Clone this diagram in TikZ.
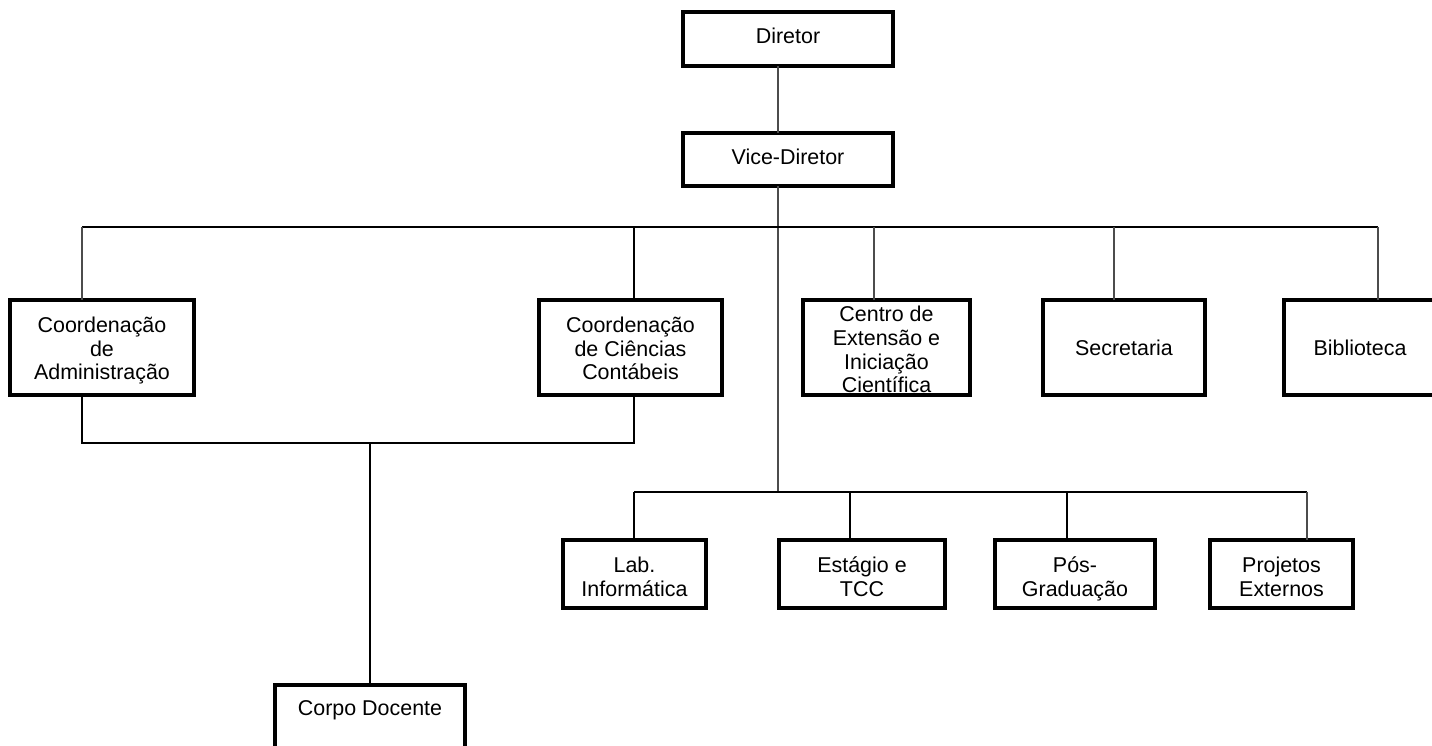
\documentclass[tikz,border=0pt]{standalone}
\usepackage{fontspec}
\setmainfont{Liberation Sans}
\begin{document}
\begin{tikzpicture}[x=0.02cm,y=-0.02cm,
	unit/.style={draw,line width=2.2pt,inner sep=0pt,outer sep=0pt,align=center,
		minimum height=0pt,font=\fontsize{12.2}{13.6}\selectfont,text height=0.64cm},
	link/.style={line width=1.1pt},
	thinlink/.style={line width=0.6pt,black!70}]
	\useasboundingbox (0,0) rectangle (1432,746);
	\node[unit,minimum width=4.2cm,text depth=0.44cm] (dir) at (788,39) {Diretor};
	\node[unit,minimum width=4.2cm,text depth=0.42cm] (vice) at (788,159.5) {Vice-Diretor};
	\node[unit,minimum width=3.68cm,text height=1.6cm,text depth=0.3cm] (adm) at (102,347.5) {Coordenação\\de\\Administração};
	\node[unit,minimum width=3.66cm,text height=1.6cm,text depth=0.3cm] (ccont) at (630.5,347.5) {Coordenação\\de Ciências\\Contábeis};
	\node[unit,minimum width=3.34cm,text height=1.86cm,text depth=0.04cm] (centro) at (886.5,347.5) {Centro de\\Extensão e\\Iniciação\\Científica};
	\node[unit,minimum width=3.24cm,text height=1.1cm,text depth=0.8cm] (secr) at (1124,347.5) {Secretaria};
	\node[unit,minimum width=3.04cm,text height=1.1cm,text depth=0.8cm] (bib) at (1360,347.5) {Biblioteca};
	\node[unit,minimum width=2.86cm,text height=1.12cm,text depth=0.24cm] (lab) at (634.5,574) {Lab.\\Informática};
	\node[unit,minimum width=3.32cm,text height=1.12cm,text depth=0.24cm] (estagio) at (862,574) {Estágio e\\TCC};
	\node[unit,minimum width=3.2cm,text height=1.12cm,text depth=0.24cm] (pos) at (1075,574) {Pós-\\Graduação};
	\node[unit,minimum width=2.86cm,text height=1.12cm,text depth=0.24cm] (proj) at (1281.5,574) {Projetos\\Externos};
	\node[unit,minimum width=3.8cm,text height=0.6cm,text depth=0.9cm] (corpo) at (370,722.5) {Corpo Docente};
	\draw[line width=2.2pt] (centro.south west) -- (centro.south east);
	\coordinate (top) at (778,227);
	\coordinate (low) at (778,492);
	\coordinate (join) at (370,443);
	\coordinate (b1) at (82,227);
	\coordinate (b2) at (634,227);
	\coordinate (b3) at (874,227);
	\coordinate (b4) at (1114,227);
	\coordinate (b5) at (1378,227);
	\coordinate (l1) at (634,492);
	\coordinate (l2) at (850,492);
	\coordinate (l3) at (1067,492);
	\coordinate (l4) at (1307,492);
	\draw[thinlink] (dir.south -| top) -- (vice.north -| top);
	\draw[thinlink] (vice.south -| top) -- (low);
	\draw[link] (b1) -- (b5);
	\draw[thinlink] (b1) -- (b1 |- adm.north);
	\draw[link] (b2) -- (b2 |- ccont.north);
	\draw[thinlink] (b3) -- (b3 |- centro.north);
	\draw[thinlink] (b4) -- (b4 |- secr.north);
	\draw[thinlink] (b5) -- (b5 |- bib.north);
	\draw[link] (b1 |- adm.south) -- (b1 |- join) -- (b2 |- join) -- (b2 |- ccont.south);
	\draw[link] (join) -- (corpo.north);
	\draw[link] (l1) -- (l4);
	\draw[link] (l1) -- (l1 |- lab.north);
	\draw[link] (l2) -- (l2 |- estagio.north);
	\draw[link] (l3) -- (l3 |- pos.north);
	\draw[thinlink] (l4) -- (l4 |- proj.north);
\end{tikzpicture}
\end{document}
